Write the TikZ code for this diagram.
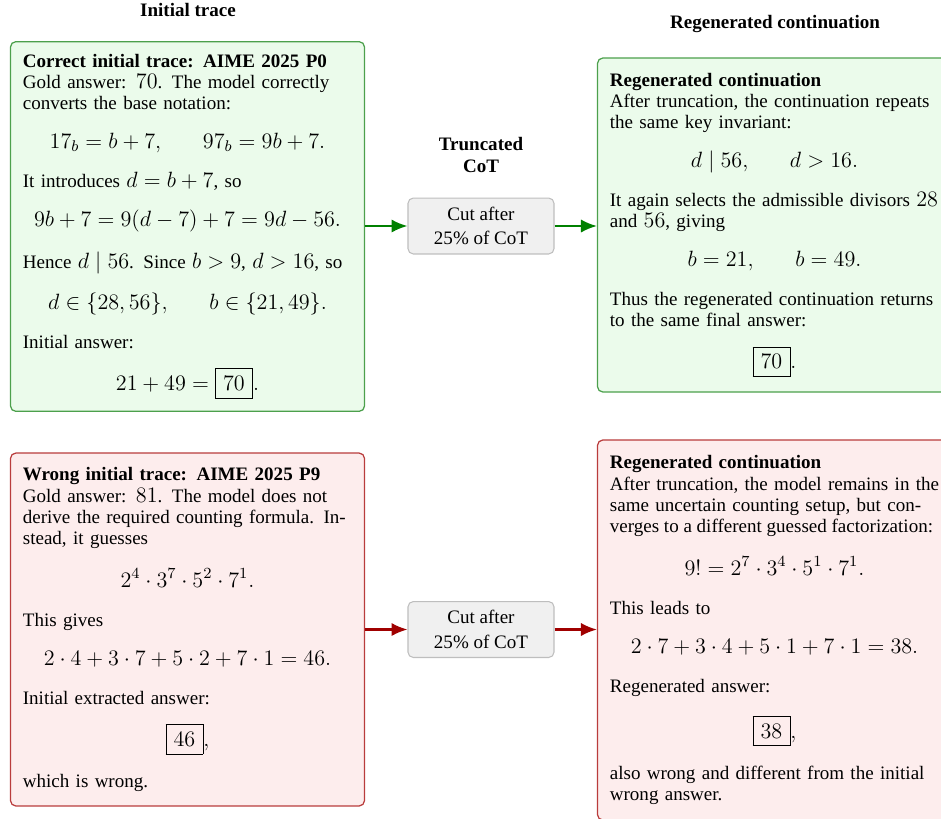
\RequirePackage{fix-cm}
\documentclass[tikz,border=0pt]{standalone}
\usepackage{amsmath}
\usepackage{fontspec}
\setmainfont{Liberation Serif}[Scale=0.86]
\usetikzlibrary{arrows.meta}
\definecolor{gfill}{RGB}{235,251,235}
\definecolor{gdraw}{RGB}{76,160,76}
\definecolor{rfill}{RGB}{253,237,237}
\definecolor{rdraw}{RGB}{185,60,60}
\definecolor{garrow}{RGB}{0,128,0}
\definecolor{rarrow}{RGB}{160,0,0}
\definecolor{cutfill}{RGB}{240,240,240}
\definecolor{cutdraw}{RGB}{190,190,190}
\setlength{\fboxsep}{4.2pt}
\newcommand{\bodysize}{\fontsize{12.5}{12}\selectfont}
\tikzset{
  trace/.style={rounded corners=3pt, line width=0.7pt, text width=186pt, inner sep=7pt, align=left, font=\bodysize},
  goodbox/.style={trace, draw=gdraw, fill=gfill},
  badbox/.style={trace, draw=rdraw, fill=rfill},
  cutbox/.style={rounded corners=3pt, draw=cutdraw, fill=cutfill, line width=0.6pt, minimum width=82.5pt, minimum height=31.6pt, align=center, inner sep=2pt, font=\bodysize},
  header/.style={font=\bodysize\bfseries, align=center},
  garr/.style={draw=garrow, line width=1.2pt, -{Latex[length=9pt,width=7.5pt]}},
  rarr/.style={draw=rarrow, line width=1.2pt, -{Latex[length=9pt,width=7.5pt]}}
}
\begin{document}
\begin{tikzpicture}[x=0.565pt,y=-0.565pt]
\useasboundingbox (0,0) rectangle (941,818);
\node[header] (h1) at (188,10) {Initial trace};
\node[header] (h2) at (775,24) {Regenerated continuation};
\node[header] (h3) at (481,155) {Truncated\\CoT};

\node[goodbox, minimum height=208.5pt] (tl) at (187.5,226.5) {%
\textbf{Correct initial trace: AIME 2025 P0}\\
Gold answer: $70$. The model correctly converts the base notation:
\[17_b = b+7,\qquad 97_b = 9b+7.\]
It introduces $d=b+7$, so
\[9b+7 = 9(d-7)+7 = 9d-56.\]
Hence $d\mid 56$. Since $b>9$, $d>16$, so
\[d\in\{28,56\},\qquad b\in\{21,49\}.\]
Initial answer:
\[21+49=\boxed{70}.\]};

\node[goodbox, minimum height=188.7pt] (tr) at (774.5,225) {%
\textbf{Regenerated continuation}\\
After truncation, the continuation repeats the same key invariant:
\[d\mid 56,\qquad d>16.\]
It again selects the admissible divisors $28$ and $56$, giving
\[b=21,\qquad b=49.\]
Thus the regenerated continuation returns to the same final answer:
\[\boxed{70}.\]};

\node[badbox, minimum height=199.4pt] (bl) at (187.5,629.5) {%
\textbf{Wrong initial trace: AIME 2025 P9}\\
Gold answer: $81$. The model does not\\
derive the required counting formula. In-\\
stead, it guesses
\[2^4\cdot 3^7\cdot 5^2\cdot 7^1.\]
This gives
\[2\cdot 4+3\cdot 7+5\cdot 2+7\cdot 1=46.\]
Initial extracted answer:
\[\boxed{46},\]
which is wrong.};

\node[badbox, minimum height=214.7pt] (br) at (774.5,630) {%
\textbf{Regenerated continuation}\\
After truncation, the model remains in the\\
same uncertain counting setup, but con-\\
\mbox{\spaceskip=0.25em\relax verges to a different guessed factorization:}
\[9! = 2^7\cdot 3^4\cdot 5^1\cdot 7^1.\]
This leads to
\[2\cdot 7+3\cdot 4+5\cdot 1+7\cdot 1=38.\]
Regenerated answer:
\[\boxed{38},\]
also wrong and different from the initial wrong answer.};

\node[cutbox] (c1) at (481,226) {Cut after\\[2pt]25\% of CoT};
\node[cutbox] (c2) at (481,629.5) {Cut after\\[2pt]25\% of CoT};

\draw[garr] (tl.east |- c1.west) -- (c1.west);
\draw[garr] (c1.east) -- (c1.east -| tr.west);
\draw[rarr] (bl.east |- c2.west) -- (c2.west);
\draw[rarr] (c2.east) -- (c2.east -| br.west);
\end{tikzpicture}
\end{document}
